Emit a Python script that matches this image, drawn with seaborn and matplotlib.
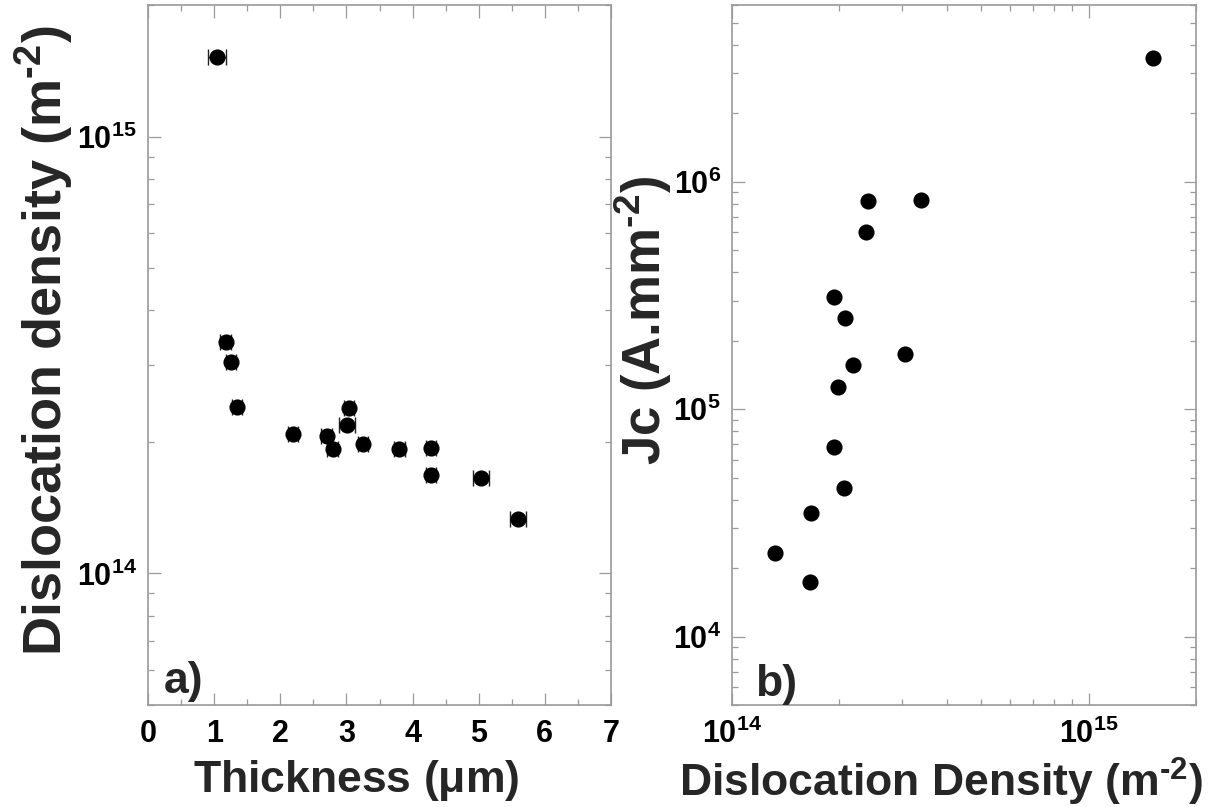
import matplotlib
matplotlib.use("Agg")
import matplotlib.pyplot as plt
import matplotlib.ticker as mticker
import numpy as np
import pandas as pd
import seaborn as sns

# Panel a: dislocation density versus film thickness
thickness = [1.04, 1.175, 1.256, 1.346, 2.19, 2.70, 2.79, 3.04, 3.01, 3.25, 3.80, 4.28, 4.28, 5.04, 5.60]
density_a = [1.52e15, 3.39e14, 3.05e14, 2.41e14, 2.08e14, 2.06e14, 1.93e14, 2.39e14,
             2.19e14, 1.98e14, 1.93e14, 1.94e14, 1.68e14, 1.65e14, 1.33e14]
thickness_err = [0.14, 0.08, 0.08, 0.08, 0.08, 0.08, 0.08, 0.08, 0.12, 0.08, 0.08, 0.08, 0.08, 0.12, 0.12]

# Panel b: critical current density versus dislocation density
density_b = [1.52e15, 2.40e14, 3.38e14, 2.38e14, 1.93e14, 2.07e14, 3.05e14, 2.19e14,
             1.98e14, 1.93e14, 2.06e14, 1.67e14, 1.32e14, 1.65e14]
jc = [3.49e6, 8.21e5, 8.36e5, 6.02e5, 3.12e5, 2.51e5, 1.75e5, 1.56e5,
      1.25e5, 6.80e4, 4.50e4, 3.49e4, 2.32e4, 1.74e4]

sns.set_theme(style="ticks")
plt.rcParams["font.family"] = ["Liberation Sans", "DejaVu Sans"]
plt.rcParams["font.weight"] = "bold"
plt.rcParams["axes.labelweight"] = "bold"
plt.rcParams["mathtext.default"] = "regular"
plt.rcParams["mathtext.fontset"] = "custom"
plt.rcParams["mathtext.rm"] = "Liberation Sans:bold"
plt.rcParams["mathtext.bf"] = "Liberation Sans:bold"

FRAME = "#9a9a9a"
TICK_FS = 22

fig = plt.figure(figsize=(12.27, 8.07), dpi=100)
ax_a = fig.add_axes([148 / 1227, 1 - 705 / 807, 463 / 1227, 700 / 807])
ax_b = fig.add_axes([732 / 1227, 1 - 705 / 807, 464 / 1227, 700 / 807])

df_a = pd.DataFrame({"thickness": thickness, "density": density_a})
df_b = pd.DataFrame({"density": density_b, "jc": jc})

SUP = r"$^{\text{-}2}$"


def style_axes(ax):
    for sp in ax.spines.values():
        sp.set_visible(True)
        sp.set_color(FRAME)
        sp.set_linewidth(1.2)
    ax.tick_params(which="both", direction="in", top=True, right=True,
                   color=FRAME, labelcolor="black", width=0.9)
    ax.tick_params(which="major", length=9, labelsize=TICK_FS)
    ax.tick_params(which="minor", length=4.5)
    ax.tick_params(axis="x", which="major", pad=10)
    ax.tick_params(axis="y", which="major", pad=8)


# ---- panel a ----
ax_a.errorbar(thickness, density_a, xerr=thickness_err, fmt="none",
              ecolor="#222222", elinewidth=1.0, capsize=5.5, capthick=1.0, zorder=2)
sns.scatterplot(data=df_a, x="thickness", y="density", ax=ax_a, color="black",
                s=135, linewidth=0, zorder=3, legend=False)
ax_a.set_yscale("log")
ax_a.set_xlim(0, 7)
ax_a.set_ylim(5e13, 2e15)
ax_a.xaxis.set_major_locator(mticker.MultipleLocator(1))
ax_a.xaxis.set_minor_locator(mticker.MultipleLocator(0.5))
ax_a.yaxis.set_major_locator(mticker.LogLocator(base=10))
ax_a.yaxis.set_minor_locator(mticker.LogLocator(base=10, subs=np.arange(2, 10)))
ax_a.yaxis.set_major_formatter(mticker.LogFormatterMathtext())
ax_a.yaxis.set_minor_formatter(mticker.NullFormatter())
style_axes(ax_a)
ax_a.set_xlabel(r"Thickness ($\mu$m)", fontsize=32)
ax_a.set_ylabel("Dislocation density (m" + SUP + ")", fontsize=39)
ax_a.xaxis.set_label_coords(0.45, -0.076)
ax_a.yaxis.set_label_coords(-0.157, 0.52)
ax_a.text(0.035, 0.005, "a)", transform=ax_a.transAxes, fontsize=32,
          fontweight="bold", ha="left", va="bottom")

# ---- panel b ----
sns.scatterplot(data=df_b, x="density", y="jc", ax=ax_b, color="black",
                s=135, linewidth=0, zorder=3, legend=False)
ax_b.set_xscale("log")
ax_b.set_yscale("log")
ax_b.set_xlim(1e14, 2e15)
ax_b.set_ylim(5e3, 6e6)
for axis in (ax_b.xaxis, ax_b.yaxis):
    axis.set_major_locator(mticker.LogLocator(base=10))
    axis.set_minor_locator(mticker.LogLocator(base=10, subs=np.arange(2, 10)))
    axis.set_major_formatter(mticker.LogFormatterMathtext())
    axis.set_minor_formatter(mticker.NullFormatter())
style_axes(ax_b)
ax_b.set_xlabel("Dislocation Density (m" + SUP + ")", fontsize=32)
ax_b.set_ylabel("Jc (A.mm" + SUP + ")", fontsize=38)
ax_b.xaxis.set_label_coords(0.45, -0.072)
ax_b.yaxis.set_label_coords(-0.125, 0.55)
ax_b.text(0.05, 0.0, "b)", transform=ax_b.transAxes, fontsize=32,
          fontweight="bold", ha="left", va="bottom")

fig.savefig("out.png", dpi=100, facecolor="white")
